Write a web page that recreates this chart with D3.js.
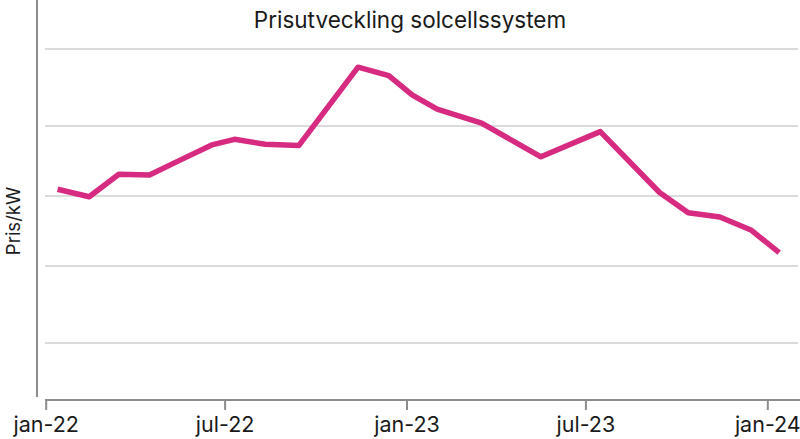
<!DOCTYPE html>
<html>
<head>
<meta charset="utf-8">
<script src="https://cdn.jsdelivr.net/npm/d3@7"></script>
<style>
  html, body { margin: 0; padding: 0; background: #fff; }
  svg { display: block; }
  text { font-family: Inter, "Open Sans", sans-serif; fill: #1a1a1a; }
</style>
</head>
<body>
<svg id="chart" width="800" height="439"></svg>
<script>
// ---- data ----
const dates = ["2022-01-13","2022-02-14","2022-03-16","2022-04-16","2022-05-18","2022-06-18",
  "2022-07-11","2022-08-11","2022-09-14","2022-11-13","2022-12-14","2023-01-07","2023-02-01",
  "2023-03-18","2023-05-17","2023-07-16","2023-09-14","2023-10-13","2023-11-14","2023-12-16","2024-01-13"];
const prices = [29.96, 28.9, 32.1, 32.0, 34.2, 36.3, 37.1, 36.4, 36.2, 47.4, 46.2, 43.4, 41.4,
  39.4, 34.6, 38.2, 29.5, 26.6, 26.0, 24.1, 20.9];
const tickDates = ["2022-01-01","2022-07-01","2023-01-01","2023-07-01","2024-01-01"];
const tickLabels = ["jan-22","jul-22","jan-23","jul-23","jan-24"];
const gridValues = [8, 19, 29, 39, 50];
const title = "Prisutveckling solcellssystem";
const yLabel = "Pris/kW";

// ---- chart ----
const parse = d3.utcParse("%Y-%m-%d");
const svg = d3.select("#chart");

const x = d3.scaleUtc()
  .domain([parse("2022-01-01"), parse("2024-01-01")])
  .range([45.7, 767.3]);
const y = d3.scaleLinear().domain([0, 57]).range([399, 0]);

// gridlines
svg.append("g").selectAll("line").data(gridValues).join("line")
  .attr("x1", 45).attr("x2", 798)
  .attr("y1", d => y(d)).attr("y2", d => y(d))
  .attr("stroke", "#cfcfcf").attr("stroke-width", 1.5);

// y axis line
svg.append("line").attr("x1", 37).attr("x2", 37).attr("y1", 0).attr("y2", 397)
  .attr("stroke", "#8c8c8c").attr("stroke-width", 2);

// x axis
const xAxis = d3.axisBottom(x)
  .tickValues(tickDates.map(parse))
  .tickFormat((d, i) => tickLabels[i])
  .tickSize(10).tickPadding(7).tickSizeOuter(0);
const gx = svg.append("g").attr("transform", "translate(0,400)").call(xAxis);
gx.select(".domain").remove();
gx.selectAll(".tick line").attr("stroke", "#8c8c8c").attr("stroke-width", 2);
gx.selectAll(".tick text").attr("font-size", 21.5).attr("fill", "#1a1a1a")
  .style("font-family", "Inter, 'Open Sans', sans-serif");
gx.insert("line", ":first-child").attr("x1", 45).attr("x2", 800).attr("y1", 0).attr("y2", 0)
  .attr("stroke", "#8c8c8c").attr("stroke-width", 2);

// line
const data = dates.map((d, i) => ({date: parse(d), v: prices[i]}));
svg.append("path").datum(data)
  .attr("fill", "none")
  .attr("stroke", "#d62b80")
  .attr("stroke-width", 5.5)
  .attr("stroke-linejoin", "round")
  .attr("d", d3.line().x(d => x(d.date)).y(d => y(d.v)));

// title
svg.append("text").attr("x", 410).attr("y", 28).attr("text-anchor", "middle")
  .attr("font-size", 22.5).text(title);

// y label
svg.append("text").attr("transform", "translate(20,221) rotate(-90)")
  .attr("text-anchor", "middle").attr("font-size", 18.5).text(yLabel);
</script>
</body>
</html>
